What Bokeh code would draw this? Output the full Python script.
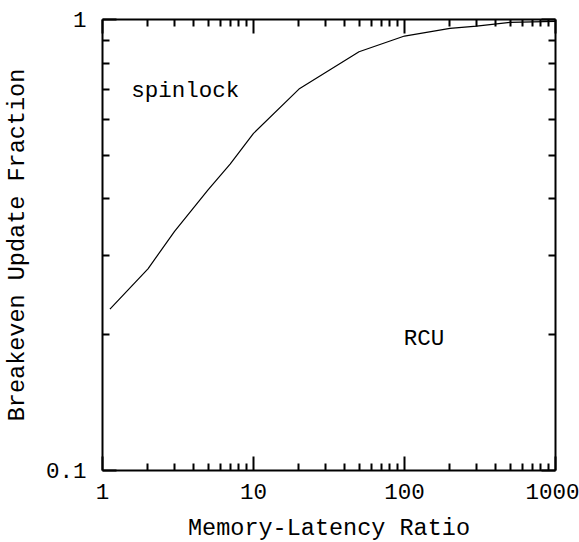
from bokeh.plotting import figure
from bokeh.models import LogAxis, FixedTicker, CustomLabelingPolicy
from bokeh.core.properties import value
from bokeh.embed import file_html
from bokeh.resources import INLINE

# Data
ratio = [1.12, 2, 3, 5, 7, 10, 20, 50, 100, 200, 300, 500, 1000]
breakeven = [0.228, 0.280, 0.339, 0.419, 0.478, 0.559, 0.701, 0.848, 0.919, 0.956, 0.967, 0.985, 0.990]

x_ticks = [1, 10, 100, 1000]
x_tick_labels = ["1", "10", "100", "1000"]
y_ticks = [0.1, 1]
y_tick_labels = ["0.1", "1"]

labels_text = ["spinlock", "RCU"]
labels_x = [1.55, 99]
labels_y = [0.695, 0.196]

FONT = "Liberation Mono"
FS = "22.5px"
FS_AXIS = "23.5px"

x_minor = [m * 10 ** k for k in range(0, 3) for m in range(2, 10)]
y_minor = [m * 0.1 for m in range(2, 10)]

p = figure(frame_width=453, frame_height=451, x_axis_type="log", y_axis_type="log",
           x_range=(1, 1000), y_range=(0.1, 1),
           output_backend="svg", toolbar_location=None,
           min_border_left=101, min_border_right=24,
           min_border_top=19, min_border_bottom=71)
p.outline_line_color = None
p.grid.visible = False
p.background_fill_color = "white"
p.border_fill_color = "white"

p.line(ratio, breakeven, line_color="black", line_width=1.2)

p.text(x=labels_x, y=labels_y, text=labels_text, text_font=value(FONT),
       text_font_size=FS, text_baseline="alphabetic", text_align="left",
       text_color="black")

hide_all = CustomLabelingPolicy(code="""
    for (const i of indices) { indices.unset(i) }
    return indices
""")

def style(ax, ticks, minor, labels, show_labels, major_len):
    ax.ticker = FixedTicker(ticks=ticks, minor_ticks=minor)
    ax.axis_line_width = 2
    ax.axis_line_color = "black"
    ax.major_tick_in = major_len
    ax.major_tick_out = 0
    ax.minor_tick_in = 7
    ax.minor_tick_out = 0
    ax.major_tick_line_width = 2
    ax.minor_tick_line_width = 2
    ax.major_tick_line_color = "black"
    ax.minor_tick_line_color = "black"
    ax.major_label_text_font = FONT
    ax.major_label_text_font_size = FS
    ax.axis_label_text_font = FONT
    ax.axis_label_text_font_style = "normal"
    ax.axis_label_text_font_size = FS_AXIS
    ax.axis_label_text_color = "black"
    ax.major_label_text_color = "black"
    if show_labels:
        ax.major_label_overrides = {t: l for t, l in zip(ticks, labels)}
    else:
        ax.major_label_overrides = {t: "" for t in ticks}
        ax.major_label_policy = hide_all
        ax.major_label_standoff = 0

xb = p.xaxis[0]
style(xb, x_ticks, x_minor, x_tick_labels, True, 14)
xb.axis_label = "Memory-Latency Ratio"
xb.major_label_standoff = 13
xb.axis_label_standoff = 13

yl = p.yaxis[0]
style(yl, y_ticks, y_minor, y_tick_labels, True, 14)
yl.axis_label = "Breakeven Update Fraction"
yl.major_label_standoff = 16
yl.axis_label_standoff = 12

xt = LogAxis()
style(xt, x_ticks, x_minor, x_tick_labels, False, 14)
p.add_layout(xt, "above")

yr = LogAxis()
style(yr, y_ticks, y_minor, y_tick_labels, False, 14)
p.add_layout(yr, "right")

open("out.html", "w").write(file_html(p, INLINE))
